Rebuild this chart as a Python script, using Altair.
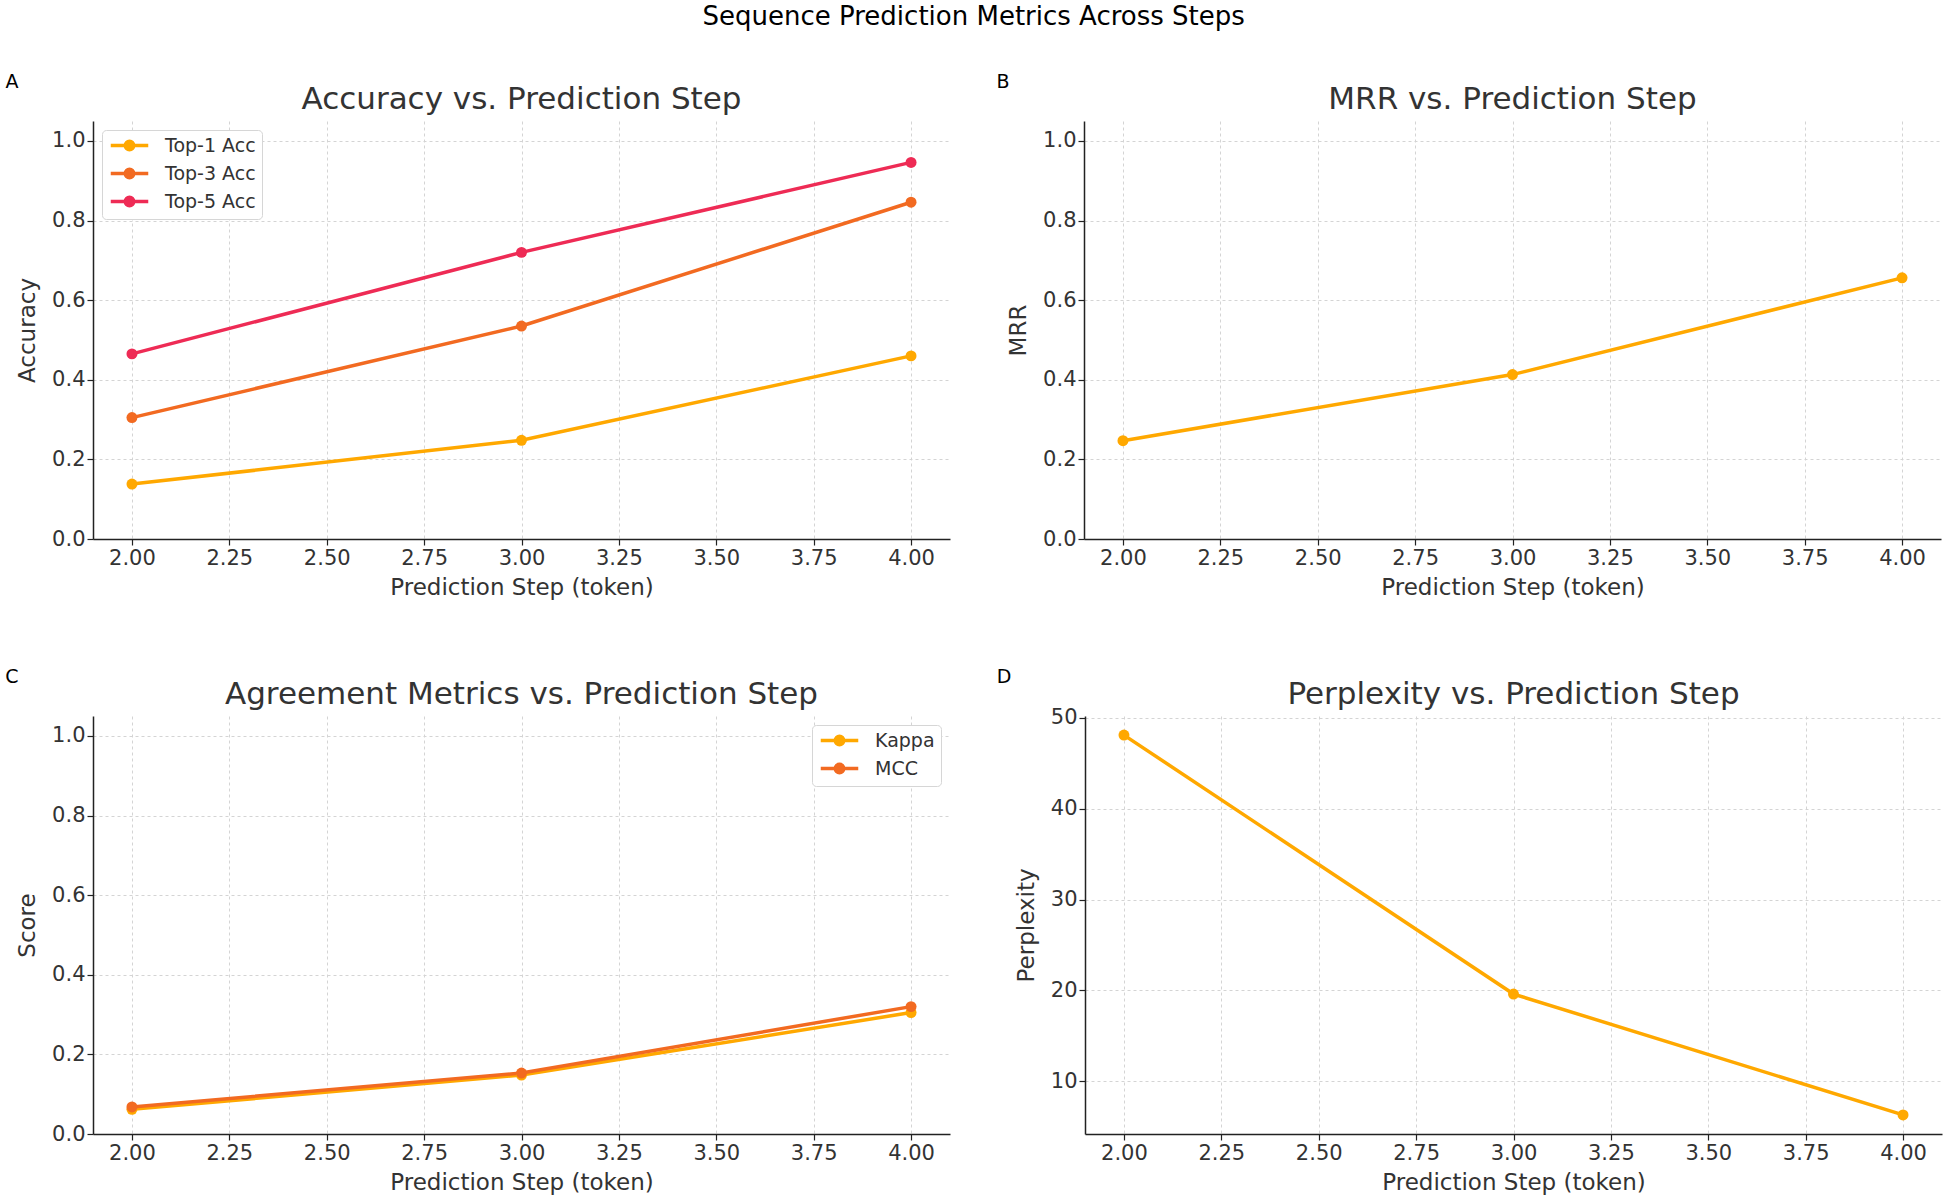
import altair as alt
import pandas as pd

# ---------------- data ----------------
steps = [2, 3, 4]

acc_series = ["Top-1 Acc", "Top-3 Acc", "Top-5 Acc"]
top1_acc = [0.138, 0.248, 0.460]
top3_acc = [0.305, 0.535, 0.846]
top5_acc = [0.465, 0.720, 0.946]

mrr_values = [0.247, 0.413, 0.656]

agree_series = ["Kappa", "MCC"]
kappa_values = [0.062, 0.148, 0.305]
mcc_values = [0.068, 0.153, 0.320]

perplexity_values = [48.1, 19.6, 6.3]

x_ticks = [2.0, 2.25, 2.5, 2.75, 3.0, 3.25, 3.5, 3.75, 4.0]
score_ticks = [0.0, 0.2, 0.4, 0.6, 0.8, 1.0]
ppl_ticks = [10, 20, 30, 40, 50]

c_yellow = "#FFA800"
c_orange = "#F26A21"
c_red = "#EE2B55"

# ---------------- helpers ----------------
FONT = "DejaVu Sans"
TXT = "#333333"
W, H = 857, 418

HALF = 3.125
def circ(r):
    return f"M{-r},0a{r},{r} 0 1,0 {2*r},0a{r},{r} 0 1,0 {-2*r},0"
SYMBOL = f"M{-HALF},0L{HALF},0" + circ(0.2) + circ(0.45) + circ(0.7)


def long_df(names, arrays, col):
    rows = []
    for n, arr in zip(names, arrays):
        for s, v in zip(steps, arr):
            rows.append({"step": s, col: v, "series": n})
    return pd.DataFrame(rows)


def panel(df, ycol, title, ylabel, ydomain, yticks, yfmt, letter, names, colors, legend_orient=None):
    x = alt.X("step:Q", title="Prediction Step (token)",
              scale=alt.Scale(domain=[1.9, 4.1], nice=False, zero=False),
              axis=alt.Axis(values=x_ticks, format=".2f"))
    y = alt.Y(f"{ycol}:Q", title=ylabel,
              scale=alt.Scale(domain=ydomain, nice=False, zero=False),
              axis=alt.Axis(values=yticks, format=yfmt))
    scale = alt.Scale(domain=names, range=colors)
    if legend_orient:
        leg = alt.Legend(title=None, orient=legend_orient, offset=9,
                         fillColor="white", strokeColor="#d6d6d6", cornerRadius=4,
                         padding=6, labelFontSize=19, labelColor=TXT, labelFont=FONT,
                         symbolType=SYMBOL, symbolSize=144, symbolStrokeWidth=3.5,
                         symbolOffset=12, labelOffset=26, rowPadding=5)
    else:
        leg = None
    base = alt.Chart(df)
    line = base.mark_line(strokeWidth=3.5).encode(
        x=x, y=y,
        stroke=alt.Stroke("series:N", scale=scale, legend=leg, sort=names),
        detail="series:N",
    )
    pts = base.mark_circle(size=120, opacity=1).encode(
        x=x, y=y,
        fill=alt.Fill("series:N", scale=scale, legend=None, sort=names),
    )
    lab = alt.Chart(pd.DataFrame({"t": [letter]})).mark_text(
        font=FONT, fontSize=19, color="black", align="center", baseline="middle"
    ).encode(text="t:N", x=alt.value(-81), y=alt.value(-39))
    ttl = alt.Chart(pd.DataFrame({"t": [title]})).mark_text(
        font=FONT, fontSize=31, color=TXT, align="center", baseline="middle"
    ).encode(text="t:N", x=alt.value(W / 2), y=alt.value(-21))
    return alt.layer(line, pts, lab, ttl).properties(width=W, height=H)


acc_df = long_df(acc_series, [top1_acc, top3_acc, top5_acc], "value")
mrr_df = long_df(["MRR"], [mrr_values], "value")
agr_df = long_df(agree_series, [kappa_values, mcc_values], "value")
ppl_df = long_df(["Perplexity"], [perplexity_values], "value")

pa = panel(acc_df, "value", "Accuracy vs. Prediction Step", "Accuracy", [0, 1.05], score_ticks, ".1f",
           "A", acc_series, [c_yellow, c_orange, c_red], "top-left")
pb = panel(mrr_df, "value", "MRR vs. Prediction Step", "MRR", [0, 1.05], score_ticks, ".1f",
           "B", ["MRR"], [c_yellow])
pc = panel(agr_df, "value", "Agreement Metrics vs. Prediction Step", "Score", [0, 1.05], score_ticks, ".1f",
           "C", agree_series, [c_yellow, c_orange], "top-right")
pd_ = panel(ppl_df, "value", "Perplexity vs. Prediction Step", "Perplexity", [4.2, 50.2], ppl_ticks, "d",
            "D", ["Perplexity"], [c_yellow])

row1 = alt.hconcat(pa, pb, spacing=46).resolve_scale(stroke="independent", fill="independent")
row2 = alt.hconcat(pc, pd_, spacing=46).resolve_scale(stroke="independent", fill="independent")

chart = alt.vconcat(row1, row2, spacing=69).properties(
    title=alt.TitleParams("Sequence Prediction Metrics Across Steps", fontSize=26, font=FONT,
                          fontWeight="normal", color="black", anchor="middle", offset=43),
    padding={"left": 5, "top": 4, "right": 5, "bottom": 5},
    background="white",
).configure_view(stroke=None).configure_axis(
    labelFont=FONT, titleFont=FONT, labelFontSize=21, titleFontSize=23,
    labelColor=TXT, titleColor=TXT, titleFontWeight="normal",
    domainColor="#222222", domainWidth=1.5, tickColor="#222222", tickSize=6, tickWidth=1.2,
    labelPadding=2, gridColor="#d4d4d4", gridDash=[3, 3], gridWidth=1,
).configure_axisX(titlePadding=8).configure_axisY(titlePadding=12)

chart.save("out.html", embed_options={"renderer": "svg", "actions": False})
